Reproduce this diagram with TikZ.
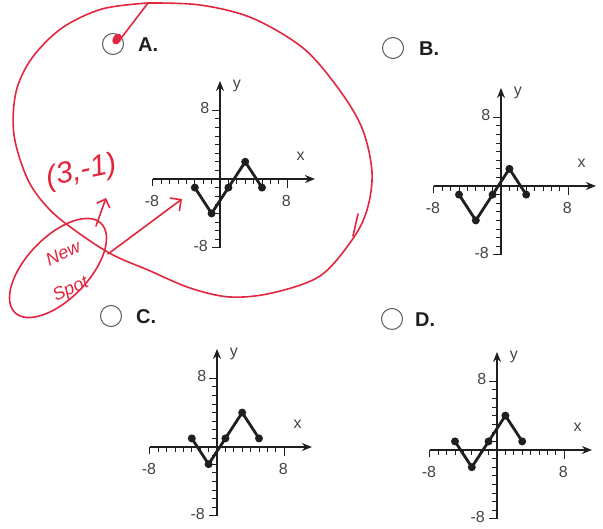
\documentclass[tikz,border=0pt]{standalone}
\usepackage{fontspec}
\setmainfont{Liberation Sans}
\usetikzlibrary{arrows.meta, calc}
\definecolor{ink}{HTML}{1F1F1F}
\definecolor{muted}{HTML}{444444}
\definecolor{ring}{HTML}{5C5C5C}
\definecolor{pen}{HTML}{E2263E}

\tikzset{
  axisline/.style={line width=1.4pt, ink, -{Stealth[length=10pt, width=8pt]}},
  tickmark/.style={line width=0.9pt, ink},
  trace/.style={line width=2.8pt, ink, line join=round},
  vertex/.style={circle, fill=ink, inner sep=0pt, minimum size=8pt},
  numlabel/.style={font=\fontsize{16}{16}\selectfont, text=muted, inner sep=1pt},
  choice/.style={circle, draw=ring, line width=1pt, minimum size=21pt, inner sep=0pt},
  letter/.style={font=\fontsize{20}{20}\selectfont\bfseries, text=ink, anchor=west, inner sep=0pt},
  redpen/.style={pen, line width=1.6pt, line cap=round, line join=round},
  scrawl/.style={text=pen, inner sep=0pt, font=\itshape}
}

% #1 name, #2 #3 origin (px), #4 five vertices as x/y
\newcommand{\minigraph}[4]{%
  \begin{scope}[shift={(#2,#3)}, x=8.4pt, y=8.6pt]
    \foreach \t in {-7,...,-1,1,2,...,7} \draw[tickmark] (\t,0) -- (\t,-0.6);
    \foreach \t in {-7,...,-1,1,2,...,7} \draw[tickmark] (0,\t) -- (-0.6,\t);
    \draw[tickmark] (-8,0) -- (-8,-0.8);
    \draw[tickmark] (8,0) -- (8,-1.1);
    \draw[tickmark] (0,8) -- (-1,8);
    \draw[tickmark] (0,-8) -- (-1,-8);
    \draw[axisline] (-8,0) -- (11.3,0);
    \draw[axisline] (0,-8) -- (0,11.4);
    \node[numlabel] (#1-xmin) at (-8.1,-2.5) {-8};
    \node[numlabel] (#1-xmax) at (7.9,-2.6) {8};
    \node[numlabel] (#1-ymax) at (-1.8,8.2) {8};
    \node[numlabel] (#1-ymin) at (-2.3,-7.8) {-8};
    \node[numlabel] (#1-x) at (9.6,2.6) {x};
    \node[numlabel] (#1-y) at (2.0,10.8) {y};
    \foreach \px/\py [count=\i] in {#4} \node[vertex] (#1-p\i) at (\px,\py) {};
    \foreach \i [remember=\i as \j (initially 1)] in {2,...,5}
      \draw[trace] (#1-p\j.center) -- (#1-p\i.center);
  \end{scope}}

\begin{document}
\begin{tikzpicture}[x=1pt, y=-1pt]
  \useasboundingbox (0,0) rectangle (603,529);
  % ---- the four answer graphs ----
  \minigraph{ga}{220}{179}{-3/-1, -1/-4, 1/-1, 3/2, 5/-1}
  \minigraph{gb}{501}{186}{-5/-1, -3/-4, -1/-1, 1/2, 3/-1}
  \minigraph{gc}{217}{447}{-3/1, -1/-2, 1/1, 3/4, 5/1}
  \minigraph{gd}{497}{450}{-5/1, -3/-2, -1/1, 1/4, 3/1}
  % ---- answer bubbles ----
  \node[choice] (optA) at (113,44) {};
  \node[letter] (labA) at (138,45) {A.};
  \node[choice] (optB) at (393,48) {};
  \node[letter] (labB) at (419,49) {B.};
  \node[choice] (optC) at (111,316) {};
  \node[letter] (labC) at (136,317) {C.};
  \node[choice] (optD) at (392,319) {};
  \node[letter] (labD) at (415,320) {D.};
  % ---- red pen: mark in bubble A and the big loop ----
  \fill[pen, rotate around={-30:(117,39)}] (117,39) ellipse [x radius=4, y radius=6];
  \coordinate (mark) at (119,41);
  \coordinate (crest) at (148,3);
  \draw[redpen] (mark) -- (crest);
  \draw[redpen] plot[smooth, tension=0.55] coordinates {(148,3) (200,5) (252,18)
        (303,48) (338,88) (362,128) (372,172) (367,210) (352,240) (320,276)
        (272,293) (230,297) (190,288) (148,270) (113,255) (80,234) (50,210)
        (28,180) (14,135) (16,92) (32,58) (62,28) (102,9) (148,3)};
  \draw[redpen] (358,214) -- (353,236);
  % ---- red pen: new spot and arrows ----
  \coordinate (cross) at (108,254);
  \coordinate (aim) at (182,199);
  \draw[redpen, -{Straight Barb[length=8pt]}] (cross) -- (aim);
  \draw[redpen, rotate around={46:(58,268)}] (58,268) ellipse [x radius=62, y radius=31];
  \coordinate (spot) at (96,226);
  \coordinate (point) at (106,198);
  \draw[redpen, -{Straight Barb[length=7pt]}] (spot) -- (point);
  \node[scrawl, font=\fontsize{30}{30}\selectfont\itshape, rotate=12] (pt) at (82,172) {(3,-1)};
  \node[scrawl, font=\fontsize{18}{18}\selectfont\itshape, rotate=25] (nw) at (63,253) {New};
  \node[scrawl, font=\fontsize{18}{18}\selectfont\itshape, rotate=25] (sp) at (71,290) {Spot};
\end{tikzpicture}
\end{document}
